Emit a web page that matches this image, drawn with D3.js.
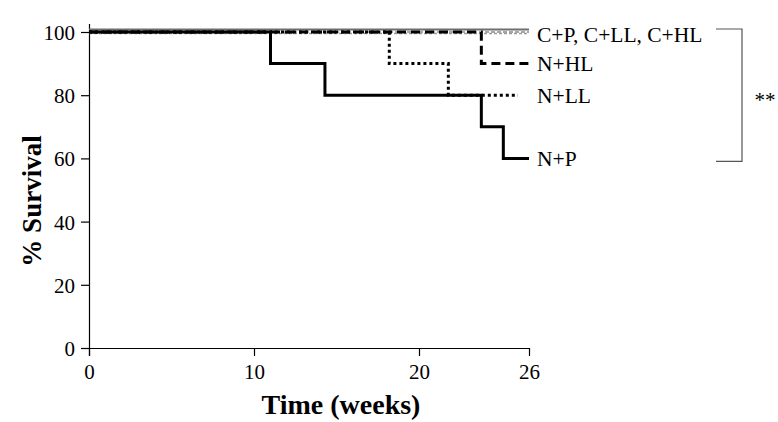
<!doctype html>
<html lang="en">
  <head>
    <meta charset="utf-8">
    <title>% Survival</title>
    <script src="https://d3js.org/d3.v7.min.js"></script>
    <style>
      body{ margin:0; background:#fff; }
      text{ font-family:"Liberation Serif","Times New Roman",serif; }
    </style>
  </head>
  <body>
    <svg id="chart" width="778" height="422"></svg>
    <script>
      //x tick labels (weeks) and y ticks (%)
      var xTicks = [0, 10, 20, 26];
      var yTicks = [0, 20, 40, 60, 80, 100];

      //series: step times (weeks) and survival (%)
      var groups = ["C+P", "C+LL", "C+HL", "N+P", "N+LL", "N+HL"];
      var cpTimes = [0, 26],   cpSurv = [100, 100];
      var cllTimes = [0, 26],  cllSurv = [100, 100];
      var chlTimes = [0, 26],  chlSurv = [100, 100];
      var npTimes = [0, 11, 14.3, 23.4, 24.6, 26], npSurv = [100, 90, 80, 70, 60, 60];
      var nllTimes = [0, 18.2, 21.6, 25.4],        nllSurv = [100, 90, 80, 80];
      var nhlTimes = [0, 23.4, 26],                nhlSurv = [100, 90, 90];

      //right-hand labels
      var labelText = ["C+P, C+LL, C+HL", "N+HL", "N+LL", "N+P"];
      var labelSurv = [100, 90, 80, 60];

      var svg = d3.select("#chart");

      //the original axis is stretched after week 20, so use a piecewise scale
      var x = d3.scaleLinear().domain([0, 20, 26]).range([89, 419, 529]);
      var y = d3.scaleLinear().domain([0, 100]).range([348, 32]);

      var zip = function(t, s){ return t.map(function(d, i){ return [d, s[i]]; }); };

      var series = [
        {name:"C+P",  pts:zip(cpTimes, cpSurv),   color:"#6e6e6e", width:2,   dash:null,  off:-2.5},
        {name:"C+LL", pts:zip(cllTimes, cllSurv), color:"#8a8a8a", width:1.5, dash:"4,2", off:0},
        {name:"C+HL", pts:zip(chlTimes, chlSurv), color:"#9a9a9a", width:1.5, dash:"3,2", off:1.5},
        {name:"N+P",  pts:zip(npTimes, npSurv),   color:"#000", width:3, dash:null,  off:0},
        {name:"N+LL", pts:zip(nllTimes, nllSurv), color:"#000", width:3, dash:"3,3", off:0},
        {name:"N+HL", pts:zip(nhlTimes, nhlSurv), color:"#000", width:3, dash:"9,5", off:0}
      ];

      //axes
      var xAxis = d3.axisBottom(x).tickValues(xTicks).tickSize(8).tickSizeOuter(0);
      var yAxis = d3.axisLeft(y).tickValues(yTicks).tickSize(8).tickSizeOuter(0);

      var gx = svg.append("g").attr("transform", "translate(0," + y(0) + ")").call(xAxis);
      var gy = svg.append("g").attr("transform", "translate(" + x(0) + ",0)").call(yAxis);

      [gx, gy].forEach(function(g){
        g.select(".domain").attr("stroke", "#000").attr("stroke-width", 1.2);
        g.selectAll(".tick line").attr("stroke", "#000").attr("stroke-width", 1.2);
        g.selectAll(".tick text")
          .attr("fill", "#000")
          .style("font-family", "'Liberation Serif', serif")
          .style("font-size", "21px");
      });
      gx.selectAll(".tick text").attr("y", 11).attr("dy", "0.95em");
      gy.selectAll(".tick text").attr("x", -14).attr("dy", "0.36em");

      //extend domains a little past the crossing like the original
      gx.select(".domain").attr("d", "M" + (x(0) - 7) + ",0.5H" + x(26));
      gy.select(".domain").attr("d", "M0.5," + (y(100) - 8) + "V" + (y(0) + 8));

      //survival lines
      var line = d3.line()
        .x(function(d){ return x(d[0]); })
        .y(function(d){ return y(d[1]); })
        .curve(d3.curveStepAfter);

      svg.append("g").selectAll("path")
        .data(series)
        .enter()
        .append("path")
        .attr("d", function(d){ return line(d.pts); })
        .attr("transform", function(d){ return "translate(0," + d.off + ")"; })
        .attr("fill", "none")
        .attr("stroke", function(d){ return d.color; })
        .attr("stroke-width", function(d){ return d.width; })
        .attr("stroke-dasharray", function(d){ return d.dash; });

      //group labels
      svg.append("g").selectAll("text")
        .data(labelText)
        .enter()
        .append("text")
        .attr("x", 537)
        .attr("y", function(d, i){ return y(labelSurv[i]) + (i === 0 ? 2 : 0); })
        .attr("dy", "0.35em")
        .style("font-size", "21.5px")
        .text(function(d){ return d; });

      //significance bracket
      var bx = 742, by0 = y(100) - 3, by1 = y(60) + 3;
      svg.append("path")
        .attr("d", "M716," + by0 + "H" + bx + "V" + by1 + "H716")
        .attr("fill", "none")
        .attr("stroke", "#555")
        .attr("stroke-width", 1.2);
      svg.append("text")
        .attr("x", 765)
        .attr("y", (by0 + by1) / 2)
        .attr("dy", "0.55em")
        .attr("text-anchor", "middle")
        .style("font-size", "21px")
        .text("**");

      //axis titles
      svg.append("text")
        .attr("x", 341)
        .attr("y", 414)
        .attr("text-anchor", "middle")
        .style("font-size", "28px")
        .style("font-weight", "bold")
        .text("Time (weeks)");

      svg.append("text")
        .attr("transform", "translate(41," + 201 + ") rotate(-90)")
        .attr("text-anchor", "middle")
        .style("font-size", "27px")
        .style("font-weight", "bold")
        .text("% Survival");
    </script>
  </body>
</html>
